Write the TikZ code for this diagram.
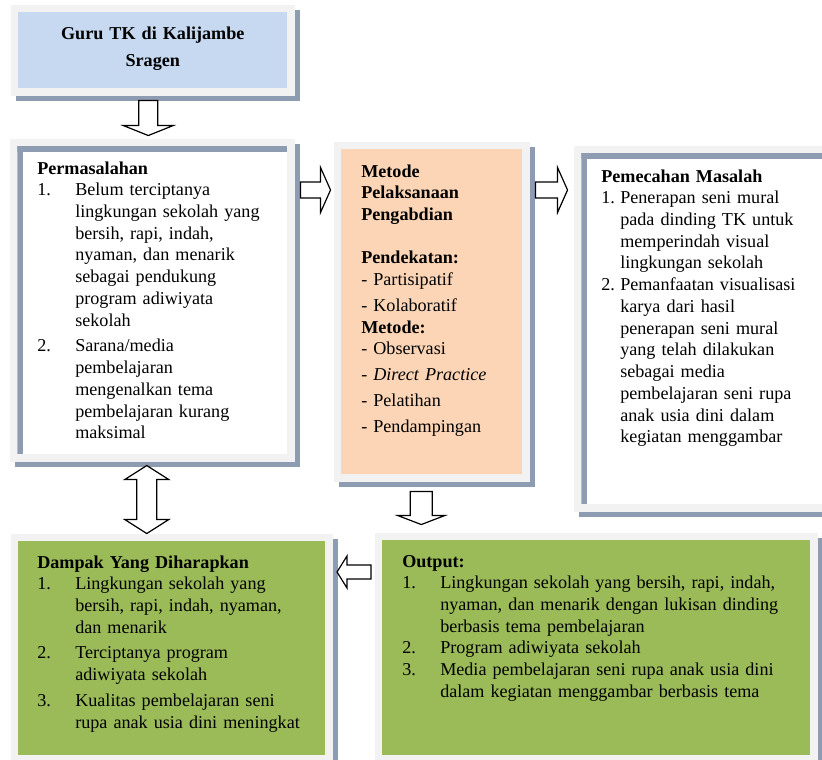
\documentclass[tikz,border=0pt]{standalone}
\usepackage{fontspec}
\setmainfont{Liberation Serif}
\usetikzlibrary{calc}

\definecolor{framegrey}{HTML}{F2F2F2}
\definecolor{shadowblue}{HTML}{8E9CB1}
\definecolor{gurublue}{HTML}{C6D9F1}
\definecolor{metodepeach}{HTML}{FBD5B5}
\definecolor{olivegreen}{HTML}{9BBB59}

\newcommand{\nomor}[2][28.5pt]{\makebox[#1][l]{#2}}
\newcommand{\sisip}[1][28.5pt]{\hspace*{#1}}

\tikzset{
    box/.style={rectangle, inner sep=0pt, anchor=north west,
        preaction={fill=shadowblue, draw=shadowblue, line width=11.25pt,
            transform canvas={shift={(3.75pt,-3.75pt)}}},
        preaction={draw=framegrey, line width=11.25pt}},
    innershade/.style={path picture={
        \fill[shadowblue] (path picture bounding box.north west) rectangle
            ([yshift=-4pt]path picture bounding box.north east);
        \fill[shadowblue] (path picture bounding box.north west) rectangle
            ([xshift=4.5pt]path picture bounding box.south west);}},
    txt/.style={font=\fontsize{13.6}{16.3}\selectfont, align=left,
        text width=320pt, inner sep=0pt, anchor=base west},
    arrowline/.style={draw=black, fill=white, line width=0.9pt},
    pics/blockarrow/.style args={#1/#2/#3/#4}{code={
        \draw[arrowline] (0,-#2) -- ({#1-#4},-#2) -- ({#1-#4},-#3) -- (#1,0)
            -- ({#1-#4},#3) -- ({#1-#4},#2) -- (0,#2) -- cycle;}},
    pics/dblarrow/.style args={#1/#2/#3/#4}{code={
        \draw[arrowline] (0,0) -- (#4,-#3) -- (#4,-#2) -- ({#1-#4},-#2)
            -- ({#1-#4},-#3) -- (#1,0) -- ({#1-#4},#3) -- ({#1-#4},#2)
            -- (#4,#2) -- (#4,#3) -- cycle;}},
}

\begin{document}
\begin{tikzpicture}[x=0.75pt, y=-0.75pt]
    \clip (0,0) rectangle (822,760);
    % Boxes
    \node[box, fill=gurublue, minimum width=201.75pt, minimum height=57pt] (guru) at (18,12) {};
    \node[box, fill=white, innershade, minimum width=202.5pt, minimum height=231pt] (masalah) at (17,146) {};
    \node[box, fill=metodepeach, minimum width=135.75pt, minimum height=243.75pt] (metode) at (341,149) {};
    \node[box, fill=white, innershade, minimum width=202.5pt, minimum height=263.25pt] (solusi) at (581,153) {};
    \node[box, fill=olivegreen, minimum width=230.25pt, minimum height=160.5pt] (dampak) at (18,541) {};
    \node[box, fill=olivegreen, minimum width=321pt, minimum height=161.25pt] (output) at (382,540) {};
    % Texts
    \node[font=\fontsize{13.6}{20.5}\selectfont\bfseries, align=center, text width=200pt,
        inner sep=0pt, anchor=base] (gurutxt) at ($(guru.north)+(0,27)$)
        {Guru TK di Kalijambe\\ Sragen};
    \node[txt] (masalahtxt) at ($(masalah.north west)+(20,28)$) {%
        \textbf{Permasalahan}\\
        \nomor{1.}Belum terciptanya\\
        \sisip lingkungan sekolah yang\\
        \sisip bersih, rapi, indah,\\
        \sisip nyaman, dan menarik\\
        \sisip sebagai pendukung\\
        \sisip program adiwiyata\\
        \sisip sekolah\\[3pt]
        \nomor{2.}Sarana/media\\
        \sisip pembelajaran\\
        \sisip mengenalkan tema\\
        \sisip pembelajaran kurang\\
        \sisip maksimal};
    \node[txt] (metodetxt) at ($(metode.north west)+(20,28)$) {%
        \textbf{Metode}\\
        \textbf{Pelaksanaan}\\
        \textbf{Pengabdian}\\[16.3pt]
        \textbf{Pendekatan:}\\
        - Partisipatif\\[3pt]
        - Kolaboratif\\
        \textbf{Metode:}\\
        - Observasi\\[3pt]
        - \textit{Direct Practice}\\[3pt]
        - Pelatihan\\[3pt]
        - Pendampingan};
    \node[txt] (solusitxt) at ($(solusi.north west)+(20,29)$) {%
        \textbf{Pemecahan Masalah}\\
        \nomor[14.25pt]{1.}Penerapan seni mural\\
        \sisip[14.25pt]pada dinding TK untuk\\
        \sisip[14.25pt]memperindah visual\\
        \sisip[14.25pt]lingkungan sekolah\\
        \nomor[14.25pt]{2.}Pemanfaatan visualisasi\\
        \sisip[14.25pt]karya dari hasil\\
        \sisip[14.25pt]penerapan seni mural\\
        \sisip[14.25pt]yang telah dilakukan\\
        \sisip[14.25pt]sebagai media\\
        \sisip[14.25pt]pembelajaran seni rupa\\
        \sisip[14.25pt]anak usia dini dalam\\
        \sisip[14.25pt]kegiatan menggambar};
    \node[txt] (dampaktxt) at ($(dampak.north west)+(19,27)$) {%
        \textbf{Dampak Yang Diharapkan}\\
        \nomor{1.}Lingkungan sekolah yang\\
        \sisip bersih, rapi, indah, nyaman,\\
        \sisip dan menarik\\[3pt]
        \nomor{2.}Terciptanya program\\
        \sisip adiwiyata sekolah\\[3pt]
        \nomor{3.}Kualitas pembelajaran seni\\
        \sisip rupa anak usia dini meningkat};
    \node[txt] (outputtxt) at ($(output.north west)+(20,27)$) {%
        \textbf{Output:}\\
        \nomor{1.}Lingkungan sekolah yang bersih, rapi, indah,\\
        \sisip nyaman, dan menarik dengan lukisan dinding\\
        \sisip berbasis tema pembelajaran\\
        \nomor{2.}Program adiwiyata sekolah\\
        \nomor{3.}Media pembelajaran seni rupa anak usia dini\\
        \sisip dalam kegiatan menggambar berbasis tema};
    % Arrows
    \pic[rotate=-90] at ($(guru.south)+(-4.5,12)$) {blockarrow=35/9.5/25/10};
    \pic at ($(masalah.north east)+(13,44)$) {blockarrow=30/8/22.5/10};
    \pic at ($(metode.north east)+(13,41)$) {blockarrow=32/8/22.5/10};
    \pic[rotate=-90] at ($(masalah.south)+(-5.5,11)$) {dblarrow=68/10/22/14};
    \pic[rotate=-90] at ($(metode.south)+(-10.5,17)$) {blockarrow=33/11/23.5/9};
    \pic[rotate=180] at ($(output.north west)+(-11,32)$) {blockarrow=34/7/16/10};
\end{tikzpicture}
\end{document}
